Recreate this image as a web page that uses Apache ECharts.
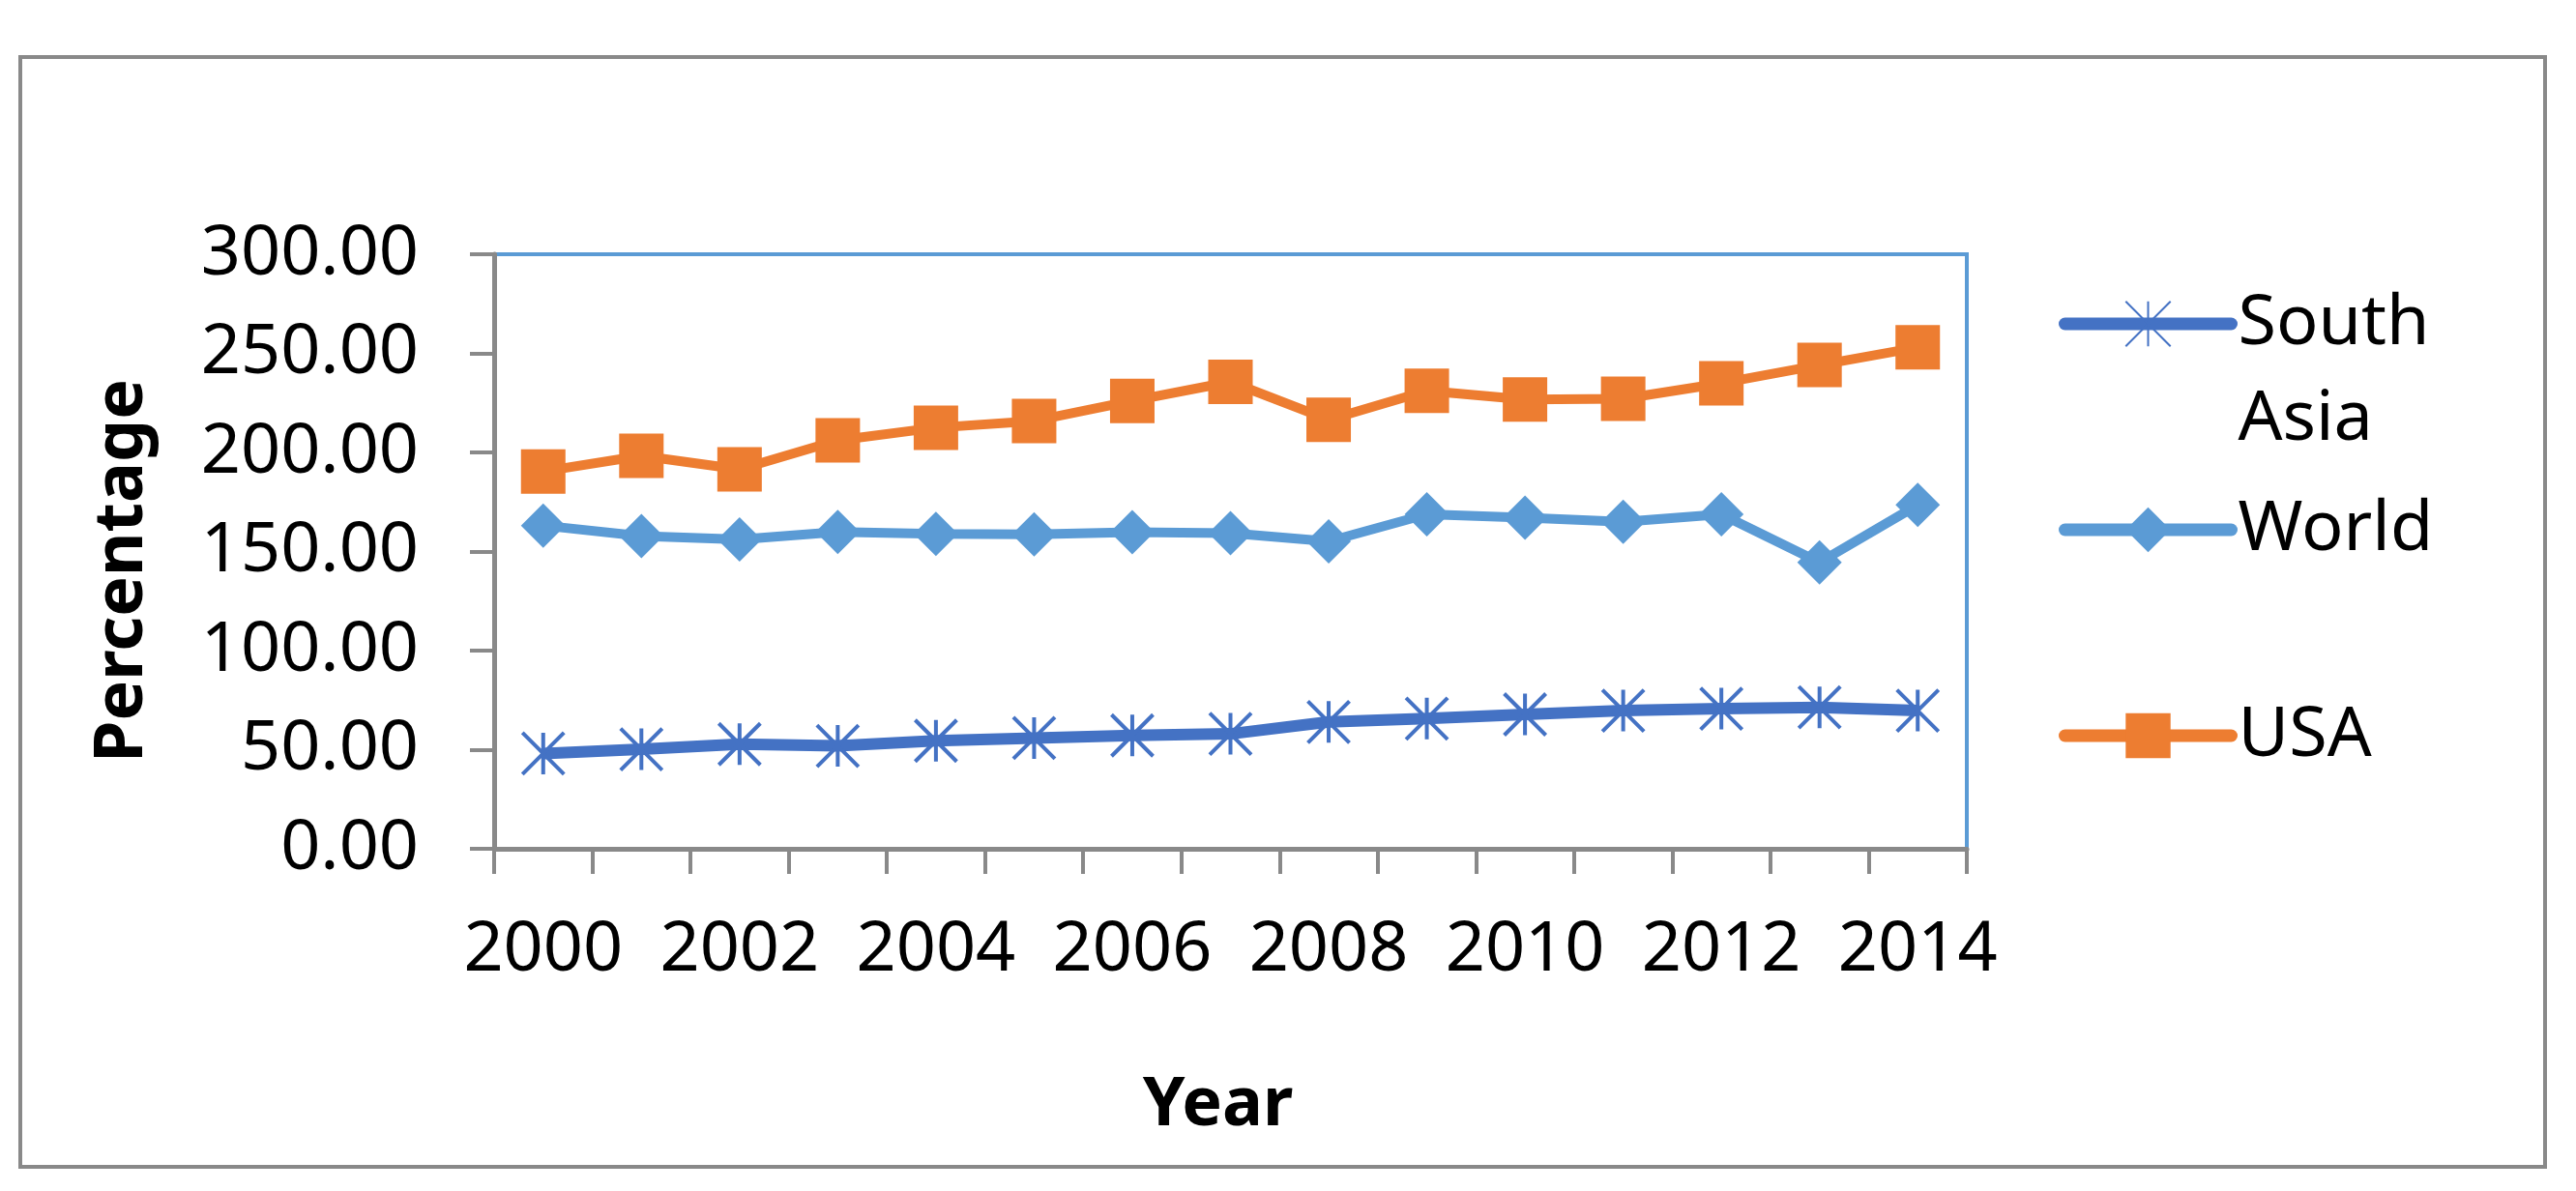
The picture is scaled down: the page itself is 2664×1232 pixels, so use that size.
<!DOCTYPE html>
<html>
<head>
<meta charset="utf-8">
<script src="https://cdn.jsdelivr.net/npm/echarts@6/dist/echarts.min.js"></script>
<style>
html,body{margin:0;padding:0;background:#fff;}
#chart{width:2664px;height:1232px;}
</style>
</head>
<body>
<div id="chart"></div>
<script>
const years = ['2000','2001','2002','2003','2004','2005','2006','2007','2008','2009','2010','2011','2012','2013','2014'];
const southAsia = [48.1, 50.2, 52.8, 51.9, 54.5, 55.9, 57.2, 58.0, 64.0, 65.7, 67.8, 69.7, 70.7, 71.4, 69.7];
const world = [163.1, 157.8, 156.1, 159.9, 158.9, 158.7, 159.7, 159.3, 155.1, 168.8, 167.1, 165.0, 168.8, 144.5, 173.5];
const usa = [190.4, 198.3, 191.5, 206.1, 212.5, 215.9, 226.0, 235.6, 216.5, 231.1, 226.7, 227.1, 234.9, 244.1, 253.0];
const yTicks = [0, 50, 100, 150, 200, 250, 300];

const FONT = 'Noto Sans';
const GREY = '#898989';
const chart = echarts.init(document.getElementById('chart'), null, {renderer: 'canvas'});
const starPath = 'path://M0,0L10,10M10,0L0,10M5,0L5,10';

function legendFor(name, top) {
  return {
    data: [name],
    orient: 'vertical',
    left: 2129,
    top: top,
    padding: 0,
    itemWidth: 172,
    itemHeight: 58,
    selectedMode: false,
    lineStyle: {width: 13, cap: 'round'},
    formatter: function (n) { return n === 'South Asia' ? '\nSouth\nAsia' : n; },
    textStyle: {fontFamily: FONT, fontSize: 72, color: '#000', lineHeight: 99, padding: [0, 0, 0, 2]}
  };
}

chart.setOption({
  backgroundColor: '#fff',
  animation: false,
  graphic: [{
    type: 'rect',
    shape: {x: 21, y: 59, width: 2611, height: 1148},
    style: {fill: 'none', stroke: GREY, lineWidth: 4},
    z: -1
  }],
  legend: [
    legendFor('South Asia', 335 - 148.5),
    legendFor('World', 548 - 49.5),
    legendFor('USA', 761 - 49.5)
  ],
  grid: {
    left: 511, top: 263, width: 1523, height: 615,
    show: true, borderColor: '#5B9BD5', borderWidth: 4, backgroundColor: 'transparent'
  },
  xAxis: {
    type: 'category',
    data: years,
    boundaryGap: true,
    name: 'Year',
    nameLocation: 'middle',
    nameGap: 231,
    nameTextStyle: {fontFamily: FONT, fontSize: 70, fontWeight: 'bold', color: '#000', padding: [0, 26, 0, 0]},
    axisLine: {show: true, lineStyle: {color: GREY, width: 5}},
    axisTick: {show: true, interval: 0, length: 26, lineStyle: {color: GREY, width: 4}},
    axisLabel: {interval: 1, margin: 69, fontFamily: FONT, fontSize: 72, color: '#000'},
    splitLine: {show: false}
  },
  yAxis: {
    type: 'value',
    min: 0, max: 300, interval: 50,
    name: 'Percentage',
    nameLocation: 'middle',
    nameRotate: 90,
    nameGap: 349,
    nameTextStyle: {fontFamily: FONT, fontSize: 70, fontWeight: 'bold', color: '#000', padding: [0, 40, 0, 0]},
    axisLine: {show: true, lineStyle: {color: GREY, width: 5}},
    axisTick: {show: true, length: 25, lineStyle: {color: GREY, width: 4}},
    axisLabel: {
      margin: 78, fontFamily: FONT, fontSize: 72, color: '#000',
      formatter: function (v) { return yTicks.indexOf(v) >= 0 ? v.toFixed(2) : ''; }
    },
    splitLine: {show: false}
  },
  series: [
    {
      name: 'South Asia', type: 'line', data: southAsia,
      symbol: starPath, symbolSize: 43,
      lineStyle: {color: '#4472C4', width: 12},
      itemStyle: {color: '#4472C4', borderColor: '#4472C4', borderWidth: 4},
      z: 3
    },
    {
      name: 'World', type: 'line', data: world,
      symbol: 'diamond', symbolSize: 46,
      lineStyle: {color: '#5B9BD5', width: 10},
      itemStyle: {color: '#5B9BD5', borderWidth: 0},
      z: 4
    },
    {
      name: 'USA', type: 'line', data: usa,
      symbol: 'rect', symbolSize: 46,
      lineStyle: {color: '#ED7D31', width: 10},
      itemStyle: {color: '#ED7D31', borderWidth: 0},
      z: 5
    }
  ]
});
</script>
</body>
</html>
